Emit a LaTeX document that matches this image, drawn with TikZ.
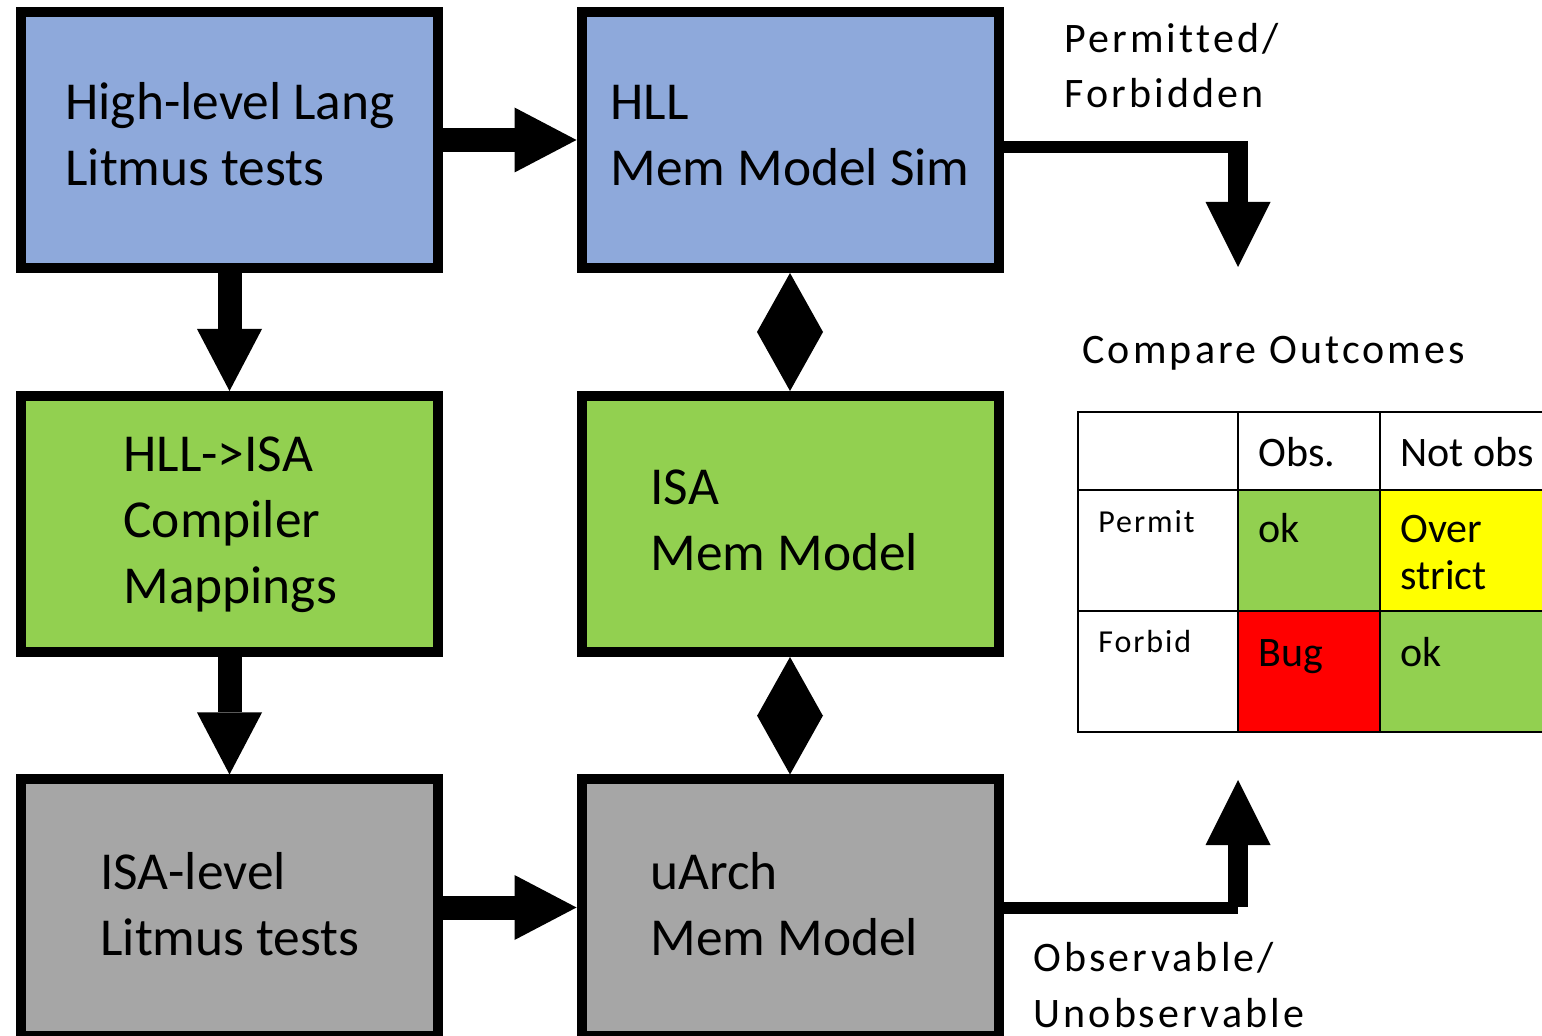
\documentclass[tikz,border=0pt]{standalone}
\usepackage{fontspec}
\setmainfont{Carlito}
\newfontfamily\trackedfont[LetterSpace=7.5, Ligatures=NoCommon]{Carlito}
\newfontfamily\trackedsmall[LetterSpace=6, Ligatures=NoCommon]{Carlito}
\usetikzlibrary{arrows.meta}

\definecolor{hllblue}{RGB}{142,169,219}
\definecolor{isagreen}{RGB}{146,208,80}
\definecolor{archgray}{RGB}{166,166,166}
\definecolor{warnyellow}{RGB}{255,255,0}
\definecolor{bugred}{RGB}{255,0,0}

\tikzset{
  stage/.style={draw=black, line width=5pt, minimum width=208.5pt, minimum height=128pt, inner sep=0pt},
  boxtext/.style={anchor=base west, inner sep=0pt, font=\fontsize{26.7pt}{33pt}\selectfont},
  flow/.style={line width=12pt, -{Triangle[length=31pt, width=32.5pt, line width=0pt]}},
  link/.style={line width=0.1pt, {Triangle[length=29.5pt, width=33pt, line width=0pt]}-{Triangle[length=29.5pt, width=33pt, line width=0pt]}},
  result/.style={line width=10pt, -{Triangle[length=32.5pt, width=32.5pt, line width=0pt]}},
  feed/.style={line width=6pt},
  note/.style={anchor=base west, inner sep=0pt, font=\trackedfont\fontsize{21pt}{27pt}\selectfont},
  smallnote/.style={anchor=base west, inner sep=0pt, font=\trackedsmall\fontsize{16pt}{20pt}\selectfont},
  celltext/.style={anchor=base west, inner sep=0pt, font=\fontsize{21pt}{24pt}\selectfont},
  grid/.style={draw=black, line width=1pt}
}

\begin{document}
\begin{tikzpicture}[x=0.5pt, y=-0.5pt]
\useasboundingbox (0,0) rectangle (1542,1036);

% the six stages
\node[stage, fill=hllblue]  (hlltests) at (229.5,140)   {};
\node[stage, fill=hllblue]  (hllsim)   at (790,140)     {};
\node[stage, fill=isagreen] (mapping)  at (229.5,524)   {};
\node[stage, fill=isagreen] (isamodel) at (790,524)     {};
\node[stage, fill=archgray] (isatests) at (229.5,907.5) {};
\node[stage, fill=archgray] (uarch)    at (790,907.5)   {};

% stage labels
\node[boxtext] (t1a) at (65,120)  {High-level Lang};
\node[boxtext] (t1b) at (65,186)  {Litmus tests};
\node[boxtext] (t2a) at (610,120) {HLL};
\node[boxtext] (t2b) at (610,186) {Mem Model Sim};
\node[boxtext] (t3a) at (123,472) {HLL->ISA};
\node[boxtext] (t3b) at (123,538) {Compiler};
\node[boxtext] (t3c) at (123,604) {Mappings};
\node[boxtext] (t4a) at (650,505) {ISA};
\node[boxtext] (t4b) at (650,571) {Mem Model};
\node[boxtext] (t5a) at (100,889) {ISA-level};
\node[boxtext] (t5b) at (100,955) {Litmus tests};
\node[boxtext] (t6a) at (650,889) {uArch};
\node[boxtext] (t6b) at (650,955) {Mem Model};

% flow between stages
\draw[flow] (hlltests.east) -- (hllsim.west);
\draw[flow] (hlltests.south) -- (mapping.north);
\draw[flow] (mapping.south) -- (isatests.north);
\draw[flow] (isatests.east) -- (uarch.west);
\draw[link] (hllsim.south) -- (isamodel.north);
\draw[link] (isamodel.south) -- (uarch.north);

% outcomes fed into the comparison
\coordinate (pfturn) at (1238,147);
\coordinate (pftop)  at (1238,141);
\coordinate (pftip)  at (1238,267);
\draw[feed] (hllsim.east |- pfturn) -- (pfturn);
\draw[result] (pftop) -- (pftip);

\coordinate (outurn) at (1238,907.5);
\coordinate (oubot)  at (1238,907);
\coordinate (outip)  at (1238,780);
\draw[feed] (uarch.east |- outurn) -- (outurn);
\draw[result] (oubot) -- (outip);

\node[note] (permlbl)  at (1064,53)  {Permitted/};
\node[note] (forblbl)  at (1064,108) {Forbidden};
\node[note] (cmplbl)   at (1082,364) {Compare Outcomes};
\node[note] (obslbl)   at (1033,971) {Observable/};
\node[note] (unobslbl) at (1033,1027) {Unobservable};

% outcome table
\fill[isagreen]   (1238,490) rectangle (1380,611);
\fill[warnyellow] (1380,490) rectangle (1560,611);
\fill[bugred]     (1238,611) rectangle (1380,732);
\fill[isagreen]   (1380,611) rectangle (1560,732);
\draw[grid] (1078,412) rectangle (1560,732);
\draw[grid] (1078,490) -- (1560,490);
\draw[grid] (1078,611) -- (1560,611);
\draw[grid] (1238,412) -- (1238,732);
\draw[grid] (1380,412) -- (1380,732);

\node[celltext]  (cobs)    at (1258,467) {Obs.};
\node[celltext]  (cnot)    at (1400,467) {Not obs};
\node[smallnote] (cperm)   at (1098,533) {Permit};
\node[smallnote] (cforb)   at (1098,653) {Forbid};
\node[celltext]  (cok1)    at (1258,543) {ok};
\node[celltext]  (cover)   at (1400,543) {Over};
\node[celltext]  (cstrict) at (1400,590) {strict};
\node[celltext]  (cbug)    at (1258,667) {Bug};
\node[celltext]  (cok2)    at (1400,667) {ok};
\end{tikzpicture}
\end{document}
